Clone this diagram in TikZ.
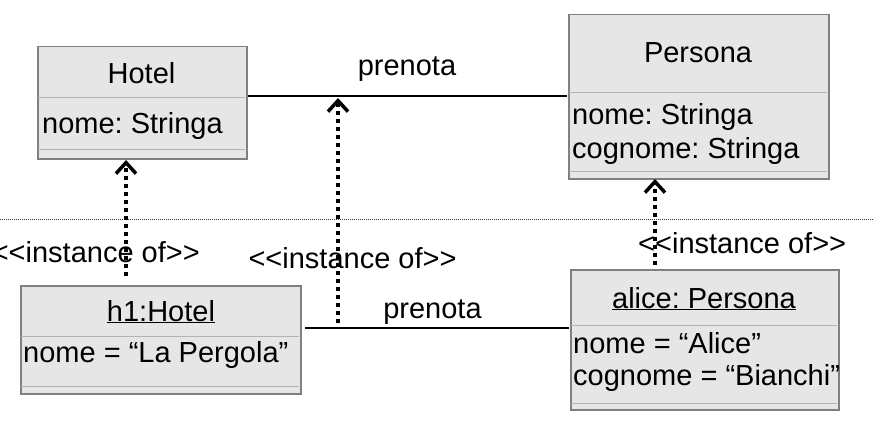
\documentclass[tikz,border=0pt]{standalone}
\usepackage{fontspec}
\setmainfont{Liberation Sans}[Ligatures=ResetAll]
\usetikzlibrary{arrows.meta}
\definecolor{boxfill}{RGB}{230,230,230}
\definecolor{boxedge}{RGB}{128,128,128}
\definecolor{divline}{RGB}{178,178,178}
\tikzset{
  umlbox/.style={draw=boxedge, fill=boxfill, line width=1.5pt, rectangle, inner sep=0pt, anchor=north west},
  divider/.style={draw=divline, line width=1pt},
  lbl/.style={inner sep=0pt, font=\fontsize{29pt}{31pt}\selectfont},
  assoc/.style={draw=black, line width=1.6pt},
  instarrow/.style={line width=4pt, dash pattern=on 4pt off 4pt, -{Straight Barb[length=11pt,width=20pt,line width=3.5pt]}},
  sep/.style={line width=1pt, dash pattern=on 1pt off 1pt, draw=black!80}
}
\begin{document}
\frenchspacing
\begin{tikzpicture}[x=1pt,y=-1pt]
\useasboundingbox (0,0) rectangle (874,436);
% separator
\coordinate (sepL) at (0,219);
\coordinate (sepR) at (874,219);
\draw[sep] (sepL) -- (sepR);

% Hotel class
\node[umlbox, minimum width=209pt, minimum height=112pt] (hotel) at (37,46) {};
\draw[divider] (38,97) -- (245,97);
\draw[divider] (38,149) -- (245,149);
\node[lbl, anchor=base] (hotelname) at (141.5,83) {Hotel};
\node[lbl, anchor=base west] (hotelattr) at (42,133) {nome: Stringa};

% Persona class
\node[umlbox, minimum width=260pt, minimum height=164pt] (persona) at (568,14) {};
\draw[divider] (569,92) -- (827,92);
\draw[divider] (569,171) -- (827,171);
\node[lbl, anchor=base] (personaname) at (698,63) {Persona};
\node[lbl, anchor=base west] (personaattr1) at (572,124) {nome: Stringa};
\node[lbl, anchor=base west] (personaattr2) at (572,158) {cognome: Stringa};

% h1 object
\node[umlbox, minimum width=280pt, minimum height=108pt] (h1) at (20,285) {};
\draw[divider] (21,336) -- (299,336);
\draw[divider] (21,386) -- (299,386);
\node[lbl, anchor=base] (h1name) at (161,321) {\underline{h1:Hotel}};
\node[lbl, anchor=base west] (h1attr) at (23,362) {nome = “La Pergola”};

% alice object
\node[umlbox, minimum width=268pt, minimum height=140pt] (alice) at (570,269) {};
\draw[divider] (571,325) -- (837,325);
\draw[divider] (571,403) -- (837,403);
\node[lbl, anchor=base] (alicename) at (704,308) {\underline{alice: Persona}};
\node[lbl, anchor=base west] (aliceattr1) at (573,353) {nome = “Alice”};
\node[lbl, anchor=base west] (aliceattr2) at (573,385) {cognome = “Bianchi”};

% associations
\coordinate (assocTL) at (248,96);
\coordinate (assocTR) at (567,96);
\draw[assoc] (assocTL) -- (assocTR);
\node[lbl, anchor=base] (prenotaTop) at (407,75) {prenota};

\coordinate (assocBL) at (305,328);
\coordinate (assocBR) at (569,328);
\draw[assoc] (assocBL) -- (assocBR);
\node[lbl, anchor=base] (prenotaBot) at (432.5,318) {prenota};

% instance-of arrows
\coordinate (i1s) at (126,276);
\coordinate (i1e) at (126,160);
\draw[instarrow] (i1s) -- (i1e);
\node[lbl, anchor=base east] (inst1) at (200,262) {<\kern0pt<instance of>\kern0pt>};

\coordinate (i2s) at (338,323);
\coordinate (i2e) at (338,98);
\draw[instarrow] (i2s) -- (i2e);
\node[lbl, anchor=base] (inst2) at (352.5,268) {<\kern0pt<instance of>\kern0pt>};

\coordinate (i3s) at (655,265);
\coordinate (i3e) at (655,179);
\draw[instarrow] (i3s) -- (i3e);
\node[lbl, anchor=base west] (inst3) at (638,253) {<\kern0pt<instance of>\kern0pt>};
\end{tikzpicture}
\end{document}
